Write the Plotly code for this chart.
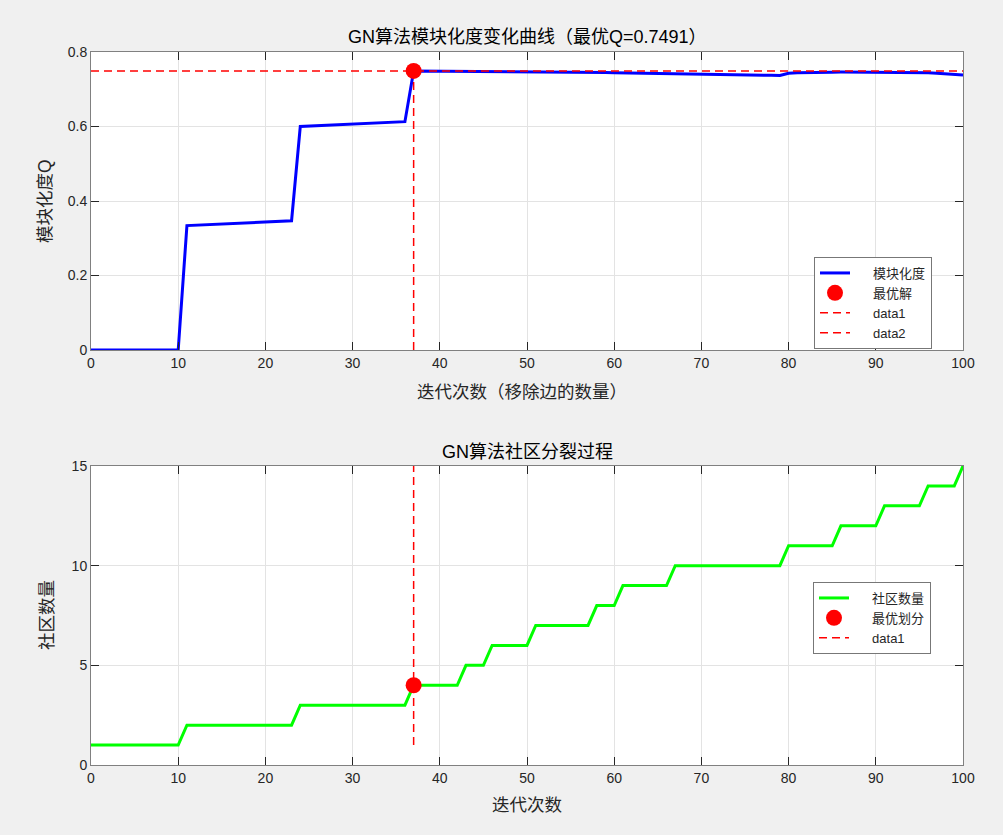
import plotly.graph_objects as go

# ---------------- data ----------------
iterations = list(range(0, 101))

modularity = [
    0.0, 0.0, 0.0, 0.0, 0.0, 0.0, 0.0, 0.0, 0.0, 0.0, 0.0,
    0.334, 0.335, 0.336, 0.337, 0.338, 0.339, 0.340, 0.341, 0.342, 0.343, 0.344, 0.345, 0.347,
    0.600, 0.601, 0.602, 0.603, 0.604, 0.605, 0.606, 0.607, 0.608, 0.609, 0.610, 0.611, 0.613,
    0.7491,
    0.7490, 0.7488, 0.7486, 0.7484, 0.7482, 0.7480, 0.7478, 0.7476, 0.7474, 0.7472,
    0.7470, 0.7468, 0.7466, 0.7464, 0.7462, 0.7460, 0.7458, 0.7456, 0.7454, 0.7452,
    0.7450, 0.7448, 0.7446,
    0.7443, 0.7440, 0.7437, 0.7434, 0.7431, 0.7428, 0.7425, 0.7421, 0.7417, 0.7413,
    0.7409, 0.7405, 0.7400, 0.7395, 0.7390, 0.7385, 0.7380, 0.7375, 0.7368,
    0.7430, 0.7440, 0.7448, 0.7453, 0.7456, 0.7458, 0.7460,
    0.7460, 0.7459, 0.7458, 0.7457, 0.7455, 0.7453, 0.7450, 0.7447, 0.7444,
    0.7440, 0.7432, 0.7420, 0.7405, 0.7385,
]

communities = [
    1, 1, 1, 1, 1, 1, 1, 1, 1, 1, 1,
    2, 2, 2, 2, 2, 2, 2, 2, 2, 2, 2, 2, 2,
    3, 3, 3, 3, 3, 3, 3, 3, 3, 3, 3, 3, 3,
    4, 4, 4, 4, 4, 4,
    5, 5, 5,
    6, 6, 6, 6, 6,
    7, 7, 7, 7, 7, 7, 7,
    8, 8, 8,
    9, 9, 9, 9, 9, 9,
    10, 10, 10, 10, 10, 10, 10, 10, 10, 10, 10, 10, 10,
    11, 11, 11, 11, 11, 11,
    12, 12, 12, 12, 12,
    13, 13, 13, 13, 13,
    14, 14, 14, 14,
    15,
]

x_ticks = [0, 10, 20, 30, 40, 50, 60, 70, 80, 90, 100]
y1_ticks = [0, 0.2, 0.4, 0.6, 0.8]
y1_tick_labels = ["0", "0.2", "0.4", "0.6", "0.8"]
y2_ticks = [0, 5, 10, 15]

best_idx = max(range(len(modularity)), key=lambda i: modularity[i])
best_iter = iterations[best_idx]
best_q = modularity[best_idx]
best_count = communities[best_idx]

title_top = f"GN算法模块化度变化曲线（最优Q={best_q:.4f}）"
title_bottom = "GN算法社区分裂过程"
xlabel_top = "迭代次数（移除边的数量）"
xlabel_bottom = "迭代次数"
ylabel_top = "模块化度Q"
ylabel_bottom = "社区数量"

legend_top_names = ["模块化度", "最优解", "data1", "data2"]
legend_bottom_names = ["社区数量", "最优划分", "data1"]

# ---------------- figure ----------------
W, H = 1003, 835
FONT = "Liberation Sans, Arial, Noto Sans CJK SC, sans-serif"
TXT = "#262626"
PAD = "\u00a0" * 5  # pushes legend text right, like MATLAB's longer legend lines


def px_x(p):
    return p / W


def px_y(p):
    return 1 - p / H


fig = go.Figure()

dash = "8px,5px"

# top subplot
fig.add_trace(go.Scatter(x=iterations, y=modularity, mode="lines", name=PAD + legend_top_names[0],
                         line=dict(color="#0000ff", width=3), xaxis="x", yaxis="y",
                         legend="legend"))
fig.add_trace(go.Scatter(x=[best_iter], y=[best_q], mode="markers", name=PAD + legend_top_names[1],
                         marker=dict(color="#ff0000", size=16), cliponaxis=False,
                         xaxis="x", yaxis="y", legend="legend"))
fig.add_trace(go.Scatter(x=[iterations[0], iterations[-1]], y=[best_q, best_q], mode="lines",
                         name=PAD + legend_top_names[2],
                         line=dict(color="#ff0000", width=1.5, dash=dash),
                         xaxis="x", yaxis="y", legend="legend"))
fig.add_trace(go.Scatter(x=[best_iter, best_iter], y=[0, best_q], mode="lines",
                         name=PAD + legend_top_names[3],
                         line=dict(color="#ff0000", width=1.5, dash=dash),
                         xaxis="x", yaxis="y", legend="legend"))

# bottom subplot
fig.add_trace(go.Scatter(x=iterations, y=communities, mode="lines",
                         name=PAD + legend_bottom_names[0],
                         line=dict(color="#00ff00", width=3), xaxis="x2", yaxis="y2",
                         legend="legend2"))
fig.add_trace(go.Scatter(x=[best_iter], y=[best_count], mode="markers",
                         name=PAD + legend_bottom_names[1],
                         marker=dict(color="#ff0000", size=16), cliponaxis=False,
                         xaxis="x2", yaxis="y2", legend="legend2"))
fig.add_trace(go.Scatter(x=[best_iter, best_iter], y=[min(communities), max(communities)],
                         mode="lines", name=PAD + legend_bottom_names[2],
                         line=dict(color="#ff0000", width=1.5, dash=dash),
                         xaxis="x2", yaxis="y2", legend="legend2"))

x_dom = [px_x(91), px_x(963)]
y1_dom = [px_y(350), px_y(52)]
y2_dom = [px_y(765), px_y(466)]

axis_common = dict(
    showline=True, linecolor="#808080", linewidth=1, mirror="ticks",
    ticks="inside", ticklen=8, tickcolor="#262626", tickwidth=1,
    showgrid=True, gridcolor="#e3e3e3", gridwidth=1, zeroline=False,
    automargin=False,
    tickfont=dict(family=FONT, size=14, color=TXT),
)

legend_common = dict(
    xanchor="left", yanchor="top",
    bgcolor="#ffffff", bordercolor="#777777", borderwidth=1,
    font=dict(family=FONT, size=13, color=TXT), tracegroupgap=0, itemwidth=30,
)

fig.update_layout(
    template="none",
    width=W, height=H,
    autosize=False,
    margin=dict(l=0, r=0, t=0, b=0, pad=0),
    paper_bgcolor="#f0f0f0",
    plot_bgcolor="#ffffff",
    font=dict(family=FONT, color=TXT),
    xaxis=dict(domain=x_dom, anchor="y", range=[0, 100], tickvals=x_ticks, **axis_common),
    yaxis=dict(domain=y1_dom, anchor="x", range=[0, 0.8], tickvals=y1_ticks,
               ticktext=y1_tick_labels, **axis_common),
    xaxis2=dict(domain=x_dom, anchor="y2", range=[0, 100], tickvals=x_ticks, **axis_common),
    yaxis2=dict(domain=y2_dom, anchor="x2", range=[0, 15], tickvals=y2_ticks, **axis_common),
    legend=dict(x=px_x(814), y=px_y(257), **legend_common),
    legend2=dict(x=px_x(813), y=px_y(582), **legend_common),
    annotations=[
        dict(text=title_top, x=px_x(527), y=px_y(37), xref="paper", yref="paper",
             showarrow=False, xanchor="center", yanchor="middle",
             font=dict(family=FONT, size=18, color="#000000")),
        dict(text=title_bottom, x=px_x(527), y=px_y(452), xref="paper", yref="paper",
             showarrow=False, xanchor="center", yanchor="middle",
             font=dict(family=FONT, size=18, color="#000000")),
        dict(text=xlabel_top, x=px_x(522), y=px_y(392), xref="paper", yref="paper",
             showarrow=False, xanchor="center", yanchor="middle",
             font=dict(family=FONT, size=17.5, color=TXT)),
        dict(text=xlabel_bottom, x=px_x(527), y=px_y(805), xref="paper", yref="paper",
             showarrow=False, xanchor="center", yanchor="middle",
             font=dict(family=FONT, size=17.5, color=TXT)),
        dict(text=ylabel_top, x=px_x(45), y=px_y(201), xref="paper", yref="paper",
             showarrow=False, xanchor="center", yanchor="middle", textangle=-90,
             font=dict(family=FONT, size=17.5, color=TXT)),
        dict(text=ylabel_bottom, x=px_x(47), y=px_y(615), xref="paper", yref="paper",
             showarrow=False, xanchor="center", yanchor="middle", textangle=-90,
             font=dict(family=FONT, size=17.5, color=TXT)),
    ],
)

fig.write_html(
    "out.html",
    config={"displayModeBar": False},
    post_script="document.body.style.margin='0';document.body.style.background='#f0f0f0';document.body.style.overflow='hidden';",
)
